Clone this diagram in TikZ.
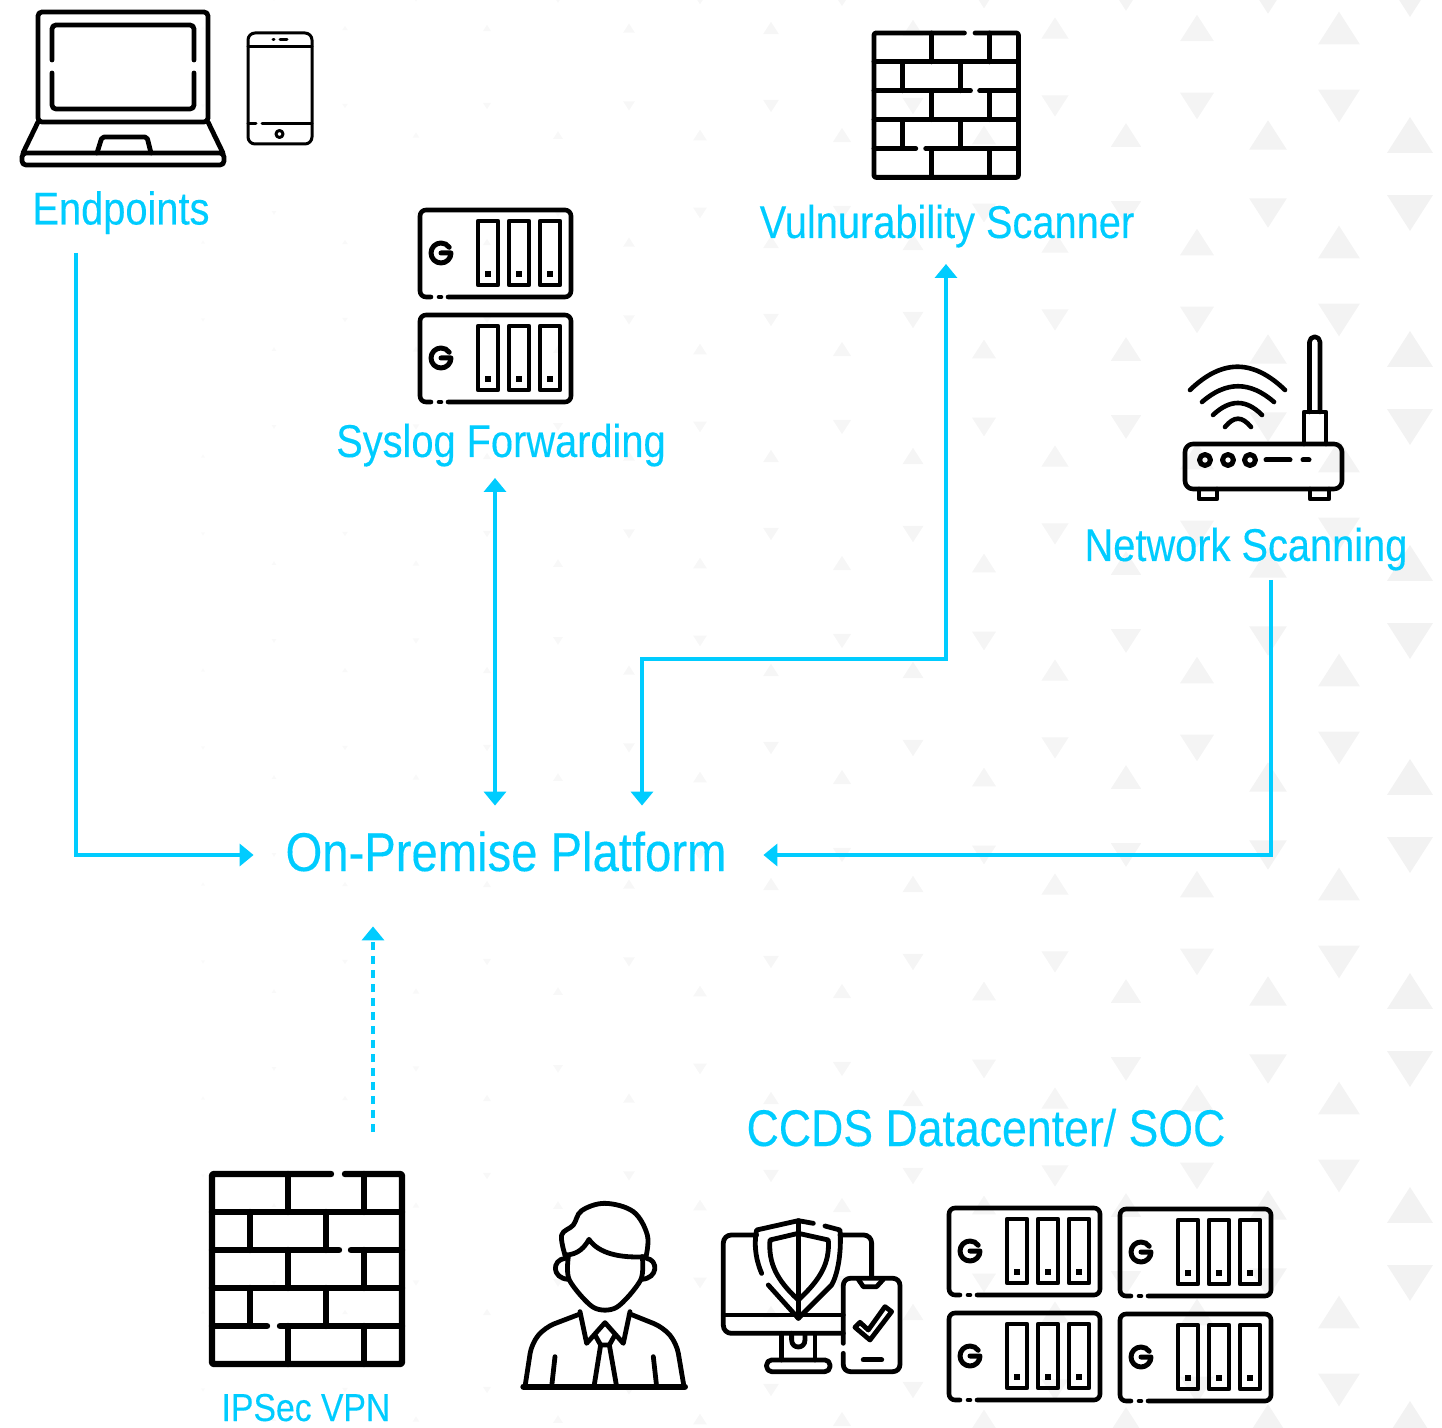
\documentclass[tikz,border=0pt]{standalone}
\usepackage{fontspec}
\setmainfont[FakeStretch=0.865,FakeBold=0.25]{Liberation Sans}
\usetikzlibrary{arrows.meta}
\definecolor{ccdsblue}{HTML}{00CCFF}
\newcommand{\bgmark}[3]{%
  \pgfmathsetmacro{\markx}{#1}
  \pgfmathsetmacro{\marky}{#2}
  \pgfmathsetmacro{\markw}{3+43*(\markx/1410)^2}
  \pgfmathsetmacro{\markh}{0.39*\markw}
  \pgfmathsetmacro{\markt}{1.5+3.5*(\markx/1410)}
  \fill [black!\markt] (\markx,\marky-#3*\markh) -- (\markx-\markw/2,\marky+#3*\markh) -- (\markx+\markw/2,\marky+#3*\markh) -- cycle;
}
\tikzset{
  x=0.5pt, y=-0.5pt,
  caption/.style={text=ccdsblue, font=\fontsize{#1}{28}\selectfont, anchor=base, inner sep=0pt},
  caption/.default=23,
  link/.style={draw=ccdsblue, line width=1.75pt, -{Triangle[width=11pt,length=7pt]}},
  icon/.style={draw=black, line cap=round, line join=round},
  server/.pic={
    \draw [icon, line width=2.3pt, rounded corners=3pt] (28,87) -- (151,87) -- (151,0) -- (0,0) -- (0,87) -- (11,87);
    \draw [icon, line width=2.3pt] (19,87) -- (21,87);
    \foreach \bay in {58,89,120} {
      \draw [icon, line width=2.3pt] (\bay,11) rectangle (\bay+20,75);
      \fill (\bay+7,61) rectangle (\bay+13,67);
    }
    \draw [icon, line width=2.5pt] (21,43) -- (31,43) arc [start angle=0, end angle=325, radius=10];
  },
  firewall/.pic={
    \draw [icon, rounded corners=1pt] (119,0) -- (0,0) -- (0,190) -- (190,190) -- (190,0) -- (133,0);
    \draw [icon] (0,38) -- (190,38) (0,76) -- (127,76) (139,76) -- (190,76);
    \draw [icon] (0,114) -- (190,114) (0,152) -- (55,152) (68,152) -- (190,152);
    \foreach \row in {0,76,152} {
      \draw [icon] (76,\row) -- (76,\row+38) (152,\row) -- (152,\row+38);
    }
    \foreach \row in {38,114} {
      \draw [icon] (38,\row) -- (38,\row+38) (114,\row) -- (114,\row+38);
    }
  },
  laptop/.pic={
    \draw [icon, line width=2.4pt, rounded corners=2pt] (38,122) -- (38,12) -- (208,12) -- (208,122) -- cycle;
    \draw [icon, line width=2.4pt, rounded corners=2pt] (52,60) -- (52,25) -- (194,25) -- (194,60);
    \draw [icon, line width=2.4pt, rounded corners=2pt] (52,73) -- (52,109) -- (194,109) -- (194,73);
    \draw [icon, line width=2.4pt] (38,122) -- (23,153) (208,122) -- (223,153);
    \draw [icon, line width=2.4pt, rounded corners=2pt] (22,153) rectangle (224,165);
    \draw [icon, line width=2.4pt, rounded corners=1pt] (97,153) -- (102,137) -- (147,137) -- (151,153);
  },
  phone/.pic={
    \draw [icon, line width=1.5pt, rounded corners=3.5pt] (248,33) rectangle (312,144);
    \draw [icon, line width=1.5pt] (248,47) -- (312,47) (248,124) -- (256,124) (262,124) -- (312,124);
    \draw [icon, line width=1.5pt] (273,39.5) -- (274,39.5) (280,39.5) -- (287,39.5);
    \draw [icon, line width=1.5pt] (279.5,134) circle (3.5);
  },
  router/.pic={
    \draw [icon, line width=2.3pt, rounded corners=4pt] (1185,444) rectangle (1342,489);
    \draw [icon, line width=2.3pt] (1199,489) -- (1199,499) -- (1217,499) -- (1217,489);
    \draw [icon, line width=2.3pt] (1310,489) -- (1310,499) -- (1329,499) -- (1329,489);
    \draw [icon, line width=2.3pt] (1304,444) -- (1304,412) -- (1326,412) -- (1326,444);
    \draw [icon, line width=2.3pt] (1309.5,412) -- (1309.5,342) arc [start angle=180, end angle=360, radius=5.25] -- (1320,412);
    \foreach \led in {1205,1228,1250} {
      \draw [icon, line width=2.5pt] (\led,460) circle (5.5);
    }
    \draw [icon, line width=2.5pt] (1266,460) -- (1290,460) (1303,460) -- (1309,460);
    \draw [icon, line width=2.3pt] (1190,390) .. controls (1222,359) and (1253,359) .. (1285,390);
    \draw [icon, line width=2.3pt] (1202,402) .. controls (1226,381) and (1250,381) .. (1274,402);
    \draw [icon, line width=2.3pt] (1213,415) .. controls (1230,399) and (1246,399) .. (1262,415);
    \draw [icon, line width=2.3pt] (1225,427) .. controls (1234,416) and (1242,416) .. (1251,427);
  },
  analyst/.pic={
    \draw [icon, line width=2.4pt] plot [smooth, tension=0.6] coordinates {(165,195) (155,135) (190,105) (215,62) (285,40) (370,65) (412,135) (408,200)};
    \draw [icon, line width=2.4pt] (165,195) .. controls (205,195) and (225,170) .. (237,148) .. controls (265,190) and (330,205) .. (408,200);
    \draw [icon, line width=2.4pt] plot [smooth, tension=0.5] coordinates {(175,200) (178,270) (250,352) (320,352) (392,270) (397,200)};
    \draw [icon, line width=2.4pt] (165,205) .. controls (125,210) and (125,265) .. (175,268);
    \draw [icon, line width=2.4pt] (410,205) .. controls (445,210) and (445,265) .. (395,268);
    \draw [icon, line width=3pt] (40,590) -- (525,590);
    \draw [icon, line width=2.4pt, rounded corners=5pt] (45,590) -- (65,460) -- (105,412) -- (210,372);
    \draw [icon, line width=2.4pt, rounded corners=5pt] (522,590) -- (500,460) -- (460,412) -- (360,372);
    \draw [icon, line width=2.4pt] (210,365) -- (230,460) -- (285,398) -- (340,460) -- (360,365);
    \draw [icon, line width=2.4pt] (255,435) -- (272,465) -- (298,465) -- (315,435);
    \draw [icon, line width=2.4pt] (272,465) -- (252,590) (298,465) -- (320,590);
    \draw [icon, line width=2.4pt] (135,500) -- (125,590) (430,500) -- (440,590);
  },
  secured/.pic={
    \draw [icon, line width=2.4pt, rounded corners=4pt] (740,135) -- (640,135) -- (640,430) -- (1000,430);
    \draw [icon, line width=2.4pt, rounded corners=4pt] (990,135) -- (1085,135) -- (1085,260);
    \draw [icon, line width=2.4pt] (640,375) -- (1000,375);
    \draw [icon, line width=2.4pt] (815,430) -- (815,510) (915,430) -- (915,510);
    \draw [icon, line width=2.4pt] (845,430) -- (845,450) .. controls (845,478) and (885,478) .. (885,450) -- (885,430);
    \draw [icon, line width=2.4pt, rounded corners=2.5pt] (770,510) rectangle (960,545);
    \draw [icon, line width=2.4pt] (910,100) -- (865,92) -- (740,120) .. controls (730,170) and (740,215) .. (755,250);
    \draw [icon, line width=2.4pt] (775,285) -- (865,385) -- (965,285) .. controls (985,250) and (995,180) .. (990,120) -- (945,108);
    \draw [icon, line width=2.4pt] (865,92) -- (865,385);
    \draw [icon, line width=2.4pt] (865,130) -- (780,150) .. controls (775,220) and (800,270) .. (865,330) .. controls (930,270) and (960,220) .. (955,150) -- cycle;
    \draw [icon, line width=2.4pt, rounded corners=3.5pt] (1000,460) -- (1000,265) -- (1170,265) -- (1170,545) -- (1000,545) -- (1000,490);
    \draw [icon, line width=2.4pt] (1045,268) -- (1060,290) -- (1100,290) -- (1120,268);
    \draw [icon, line width=2.4pt] (1035,412) -- (1050,397) -- (1075,420) -- (1125,350) -- (1145,365) -- (1080,450) -- cycle;
    \draw [icon, line width=2.5pt] (1060,510) -- (1115,510);
  }
}
\begin{document}
\begin{tikzpicture}
  \useasboundingbox (0,0) rectangle (1442,1428);

  % background marks
  \foreach \col in {0,...,8} {
    \foreach \row in {-3,...,3} {
      \bgmark{1339-142*\col}{670+214*\row}{1}
      \bgmark{1339-142*\col}{748+214*\row}{-1}
      \bgmark{1410-142*\col}{641+214*\row}{-1}
      \bgmark{1410-142*\col}{777+214*\row}{1}
    }
  }

  % icons
  \pic at (0,0) {laptop};
  \pic at (0,0) {phone};
  \pic at (420,210) {server};
  \pic at (420,315) {server};
  \pic [scale=0.76, line width=2.4pt] at (874,33) {firewall};
  \pic at (0,0) {router};
  \pic [scale=1.0, line width=3.2pt] at (212,1174) {firewall};
  \pic [scale=0.3333] at (510,1190) {analyst};
  \pic [scale=0.3333] at (510,1190) {secured};
  \pic at (949,1208) {server};
  \pic at (1120,1209) {server};
  \pic at (949,1313) {server};
  \pic at (1120,1314) {server};

  % labels
  \node [caption] (endpoints) at (121,224.5) {Endpoints};
  \node [caption] (syslog) at (501,457) {Syslog Forwarding};
  \node [caption] (scanner) at (947,238) {Vulnurability Scanner};
  \node [caption] (network) at (1246,561) {Network Scanning};
  \node [caption=25.8] (ccds) at (986,1146) {CCDS Datacenter/ SOC};
  \node [caption=19.5] (ipsec) at (306,1421) {IPSec VPN};
  \node [text=ccdsblue, font=\fontsize{27.3}{32}\selectfont, inner sep=0pt, minimum width=254.5pt, minimum height=49pt,
    text height=20pt, text depth=4pt] (platform) at (508.5,855) {On-Premise Platform\hspace*{2.5pt}};

  % free ends beside the labels
  \coordinate (endpoints-port) at (76,253);
  \coordinate (syslog-port) at (495,478);
  \coordinate (scanner-port) at (946,264);
  \coordinate (scanner-turn) at (642,659);
  \coordinate (network-port) at (1271,580);
  \coordinate (ipsec-port) at (373,1132);

  % links
  \draw [link] (endpoints-port) |- (platform.west);
  \draw [link, {Triangle[width=11pt,length=7pt]}-{Triangle[width=11pt,length=7pt]}] (syslog-port) -- (syslog-port |- platform.north);
  \draw [link, {Triangle[width=11pt,length=7pt]}-{Triangle[width=11pt,length=7pt]}] (scanner-port) |- (scanner-turn) -- (scanner-turn |- platform.north);
  \draw [link] (network-port) |- (platform.east);
  \draw [link, dash pattern=on 4pt off 3pt, shorten >=11pt] (ipsec-port) -- (ipsec-port |- platform.south);
\end{tikzpicture}
\end{document}
